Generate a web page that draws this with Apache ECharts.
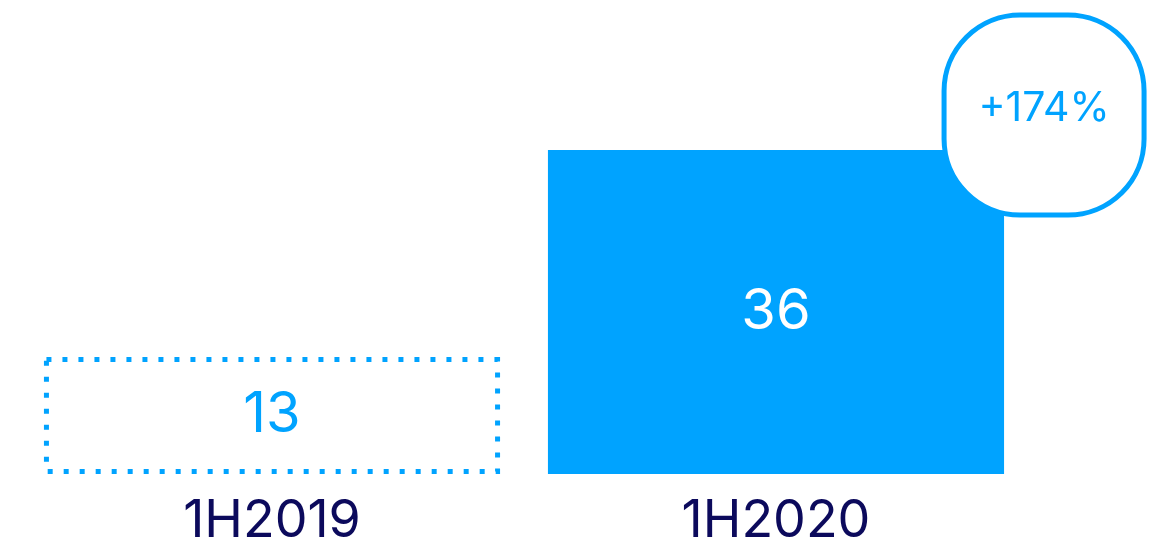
<!DOCTYPE html>
<html>
<head>
<meta charset="utf-8">
<script src="https://cdn.jsdelivr.net/npm/echarts@6/dist/echarts.min.js"></script>
<style>
  html, body { margin: 0; padding: 0; background: #ffffff; }
  #chart { width: 1167px; height: 549px; }
</style>
</head>
<body>
<div id="chart"></div>
<script>
// Half-year totals
const categories = ['1H2019', '1H2020'];
const values = [13, 36];
// Growth badge shown on the latest period
const growthText = '+174%';

const BLUE = '#00A3FF';
const NAVY = '#0C0A5C';
const FONT = 'Inter, "Noto Sans", sans-serif';
const BAR_RATIO = 0.905;
const DOT_WIDTH = 5;

function renderBar(params, api) {
  const idx = params.dataIndex;
  const top = api.coord([api.value(0), api.value(1)]);
  const base = api.coord([api.value(0), 0]);
  const band = api.size([1, 0])[0];
  const w = band * BAR_RATIO;
  const x0 = top[0] - w / 2;
  const y0 = top[1];
  const h = base[1] - top[1];
  const isLast = idx === values.length - 1;
  const children = [];

  if (isLast) {
    children.push({
      type: 'rect',
      shape: { x: x0, y: y0, width: w, height: h },
      style: { fill: BLUE }
    });
  } else {
    const inset = DOT_WIDTH / 2;
    children.push({
      type: 'rect',
      shape: { x: x0 + inset, y: y0 + inset, width: w - DOT_WIDTH, height: h - DOT_WIDTH },
      style: { fill: 'none', stroke: BLUE, lineWidth: DOT_WIDTH, lineDash: [5, 11], lineCap: 'butt' }
    });
  }

  children.push({
    type: 'text',
    style: {
      text: String(api.value(1)),
      x: top[0],
      y: y0 + h / 2,
      align: 'center',
      verticalAlign: 'middle',
      fill: isLast ? '#ffffff' : BLUE,
      font: '400 56px ' + FONT
    }
  });

  if (isLast) {
    // rounded badge sitting over the top-right corner of the bar
    const size = 200;
    const cx = x0 + w + 40;
    const cy = y0 - 35;
    children.push({
      type: 'rect',
      shape: { x: cx - size / 2, y: cy - size / 2, width: size, height: size, r: 76 },
      style: { fill: '#ffffff', stroke: BLUE, lineWidth: 5 }
    });
    children.push({
      type: 'text',
      style: {
        text: growthText,
        x: cx,
        y: cy - 6,
        align: 'center',
        verticalAlign: 'middle',
        fill: BLUE,
        font: '400 41px ' + FONT
      }
    });
  }

  return { type: 'group', children: children };
}

const chart = echarts.init(document.getElementById('chart'), null, { renderer: 'canvas' });
chart.setOption({
  backgroundColor: '#ffffff',
  animation: false,
  grid: { left: 20, right: 139, top: 24, bottom: 75, containLabel: false, outerBoundsMode: 'none' },
  xAxis: {
    type: 'category',
    data: categories,
    axisLine: { show: false },
    axisTick: { show: false },
    splitLine: { show: false },
    axisLabel: { color: NAVY, fontSize: 52, fontFamily: FONT, margin: 21 }
  },
  yAxis: {
    type: 'value',
    min: 0,
    max: 50,
    show: false
  },
  series: [{
    type: 'custom',
    renderItem: renderBar,
    encode: { x: 0, y: 1 },
    data: values.map((v, i) => [i, v]),
    clip: false
  }]
});
</script>
</body>
</html>
